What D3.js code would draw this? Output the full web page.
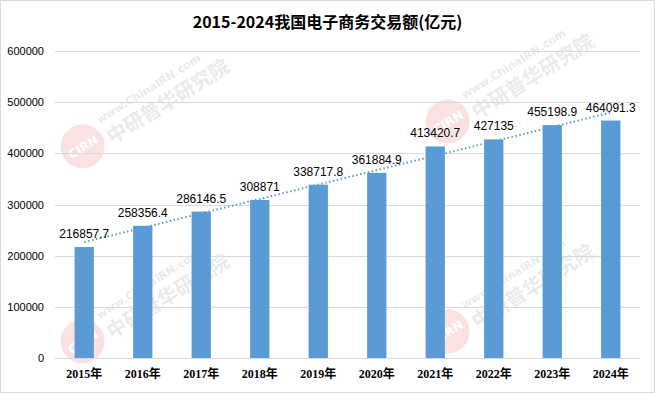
<!DOCTYPE html>
<html>
<head>
<meta charset="utf-8">
<script src="https://cdn.jsdelivr.net/npm/d3@7"></script>
<style>
  body { margin: 0; background: #fff; }
  svg { display: block; }
</style>
</head>
<body>
<div id="chart"></div>
<script>
// data
const years = ["2015年", "2016年", "2017年", "2018年", "2019年", "2020年", "2021年", "2022年", "2023年", "2024年"];
const values = [216857.7, 258356.4, 286146.5, 308871, 338717.8, 361884.9, 413420.7, 427135, 455198.9, 464091.3];
const valueLabels = ["216857.7", "258356.4", "286146.5", "308871", "338717.8", "361884.9", "413420.7", "427135", "455198.9", "464091.3"];
const yTicks = [0, 100000, 200000, 300000, 400000, 500000, 600000];

const width = 655, height = 393;
const margin = { top: 51, right: 15, bottom: 35, left: 55 };

const svg = d3.select("#chart").append("svg")
  .attr("width", width)
  .attr("height", height);

// outer border
svg.append("rect")
  .attr("x", 0.5).attr("y", 0.5)
  .attr("width", width - 1).attr("height", height - 1)
  .attr("fill", "#fff").attr("stroke", "#d9d9d9");

const x = d3.scaleBand()
  .domain(years)
  .range([margin.left, width - margin.right])
  .paddingInner(0.67)
  .paddingOuter(0.335);

const y = d3.scaleLinear()
  .domain([0, 600000])
  .range([height - margin.bottom, margin.top]);

// watermarks
const marks = [[130, 105], [495, 80], [130, 300], [495, 290]];
marks.forEach(([mx, my]) => {
  const g = svg.append("g")
    .attr("transform", `translate(${mx},${my}) rotate(-32)`)
    .attr("opacity", 0.13);
  g.append("circle").attr("cx", -62).attr("cy", 10).attr("r", 22).attr("fill", "#e8262a");
  g.append("text").attr("x", -62).attr("y", 15).attr("text-anchor", "middle")
    .attr("font-family", "DejaVu Sans").attr("font-weight", "bold").attr("font-size", 12)
    .attr("fill", "#fff").text("CIRN");
  g.append("text").attr("x", -36).attr("y", 0)
    .attr("font-family", "DejaVu Sans").attr("font-weight", "bold").attr("font-size", 11)
    .attr("fill", "#666").text("www.ChinaIRN.com");
  g.append("text").attr("x", -36).attr("y", 24)
    .attr("font-family", "Noto Sans CJK SC").attr("font-weight", "bold").attr("font-size", 20)
    .attr("fill", "#666").text("中研普华研究院");
});

// gridlines
svg.append("g")
  .selectAll("line")
  .data(yTicks)
  .join("line")
  .attr("x1", margin.left).attr("x2", width - margin.right)
  .attr("y1", d => Math.round(y(d)) + 0.5).attr("y2", d => Math.round(y(d)) + 0.5)
  .attr("stroke", "#d9d9d9");

// y axis
const yAxis = svg.append("g")
  .attr("transform", `translate(${margin.left - 8},0)`)
  .call(d3.axisLeft(y).tickValues(yTicks).tickFormat(d => d).tickSize(0));
yAxis.select(".domain").remove();
yAxis.selectAll("text")
  .attr("font-family", "Liberation Sans, Arial, sans-serif")
  .attr("font-size", 11)
  .attr("fill", "#000");

// x axis
const xAxis = svg.append("g")
  .attr("transform", `translate(0,${height - margin.bottom})`)
  .call(d3.axisBottom(x).tickSize(0).tickPadding(11));
xAxis.select(".domain").remove();
xAxis.selectAll("text")
  .attr("font-family", "Liberation Serif, Noto Sans CJK SC, serif")
  .attr("font-weight", "bold")
  .attr("font-size", 12)
  .attr("fill", "#000");

// bars
svg.append("g")
  .selectAll("rect")
  .data(values)
  .join("rect")
  .attr("x", (d, i) => x(years[i]))
  .attr("y", d => y(d))
  .attr("width", x.bandwidth())
  .attr("height", d => y(0) - y(d))
  .attr("fill", "#5b9bd5");

// linear trendline
const n = values.length;
const xs = d3.range(1, n + 1);
const mx = d3.mean(xs), my = d3.mean(values);
const slope = d3.sum(xs, (xi, i) => (xi - mx) * (values[i] - my)) / d3.sum(xs, xi => (xi - mx) ** 2);
const intercept = my - slope * mx;
const cx = i => x(years[i]) + x.bandwidth() / 2;
svg.append("line")
  .attr("x1", cx(0)).attr("y1", y(intercept + slope * 1))
  .attr("x2", cx(n - 1)).attr("y2", y(intercept + slope * n))
  .attr("stroke", "#5b9bd5")
  .attr("stroke-width", 2)
  .attr("stroke-dasharray", "1.5,2.5");

// value labels
svg.append("g")
  .selectAll("text")
  .data(values)
  .join("text")
  .attr("x", (d, i) => cx(i))
  .attr("y", d => y(d) - 9)
  .attr("text-anchor", "middle")
  .attr("font-family", "Liberation Sans, Arial, sans-serif")
  .attr("font-size", 12)
  .attr("fill", "#000")
  .text((d, i) => valueLabels[i]);

// title
svg.append("text")
  .attr("x", width / 2)
  .attr("y", 28)
  .attr("text-anchor", "middle")
  .attr("font-family", "Noto Sans CJK SC, sans-serif")
  .attr("font-weight", "bold")
  .attr("font-size", 16)
  .attr("fill", "#000")
  .text("2015-2024我国电子商务交易额(亿元)");
</script>
</body>
</html>
